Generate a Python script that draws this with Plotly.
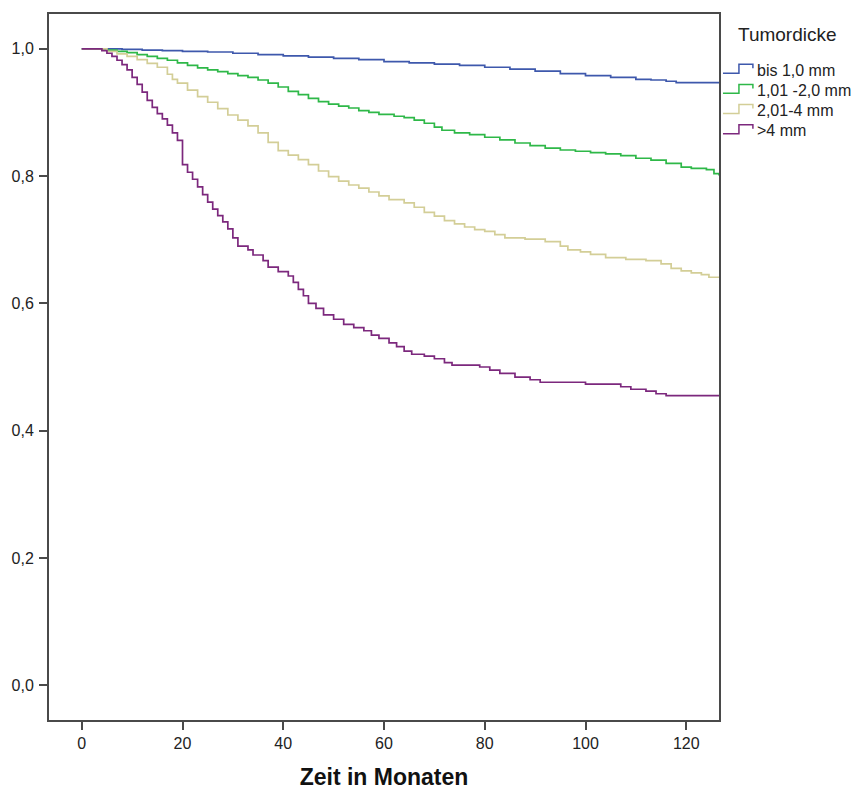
import plotly.graph_objects as go

# Kaplan-Meier survival by tumour thickness (step curves)
months_thin = [0, 5, 8, 12, 16, 20, 25, 30, 35, 40, 45, 50, 55, 60, 65, 70, 75, 80,
               85, 90, 95, 100, 105, 110, 113, 116, 118, 126.5]
surv_thin = [1.0, 1.0, 0.999, 0.998, 0.997, 0.996, 0.995, 0.993, 0.991, 0.989, 0.987,
             0.985, 0.983, 0.980, 0.978, 0.976, 0.974, 0.971, 0.968, 0.965, 0.961,
             0.958, 0.955, 0.952, 0.951, 0.949, 0.947, 0.947]

months_mid = [0, 3, 5, 7, 9, 11, 13, 15, 17, 19, 21, 23, 25, 27, 29, 31, 33, 35, 37,
              39, 41, 43, 45, 47, 49, 51, 53, 55, 57, 59, 62, 64, 66, 68, 70, 71.5, 74,
              77, 80, 83, 86, 89, 92, 95, 98, 101, 104, 107, 110, 113, 116, 119, 121,
              124, 125.5, 126.5]
surv_mid = [1.0, 1.0, 0.998, 0.996, 0.994, 0.991, 0.988, 0.985, 0.982, 0.978, 0.974,
            0.970, 0.967, 0.964, 0.961, 0.958, 0.955, 0.951, 0.946, 0.940, 0.933,
            0.928, 0.922, 0.917, 0.913, 0.910, 0.907, 0.903, 0.900, 0.897, 0.894,
            0.892, 0.888, 0.883, 0.877, 0.872, 0.868, 0.865, 0.861, 0.857, 0.852,
            0.848, 0.844, 0.841, 0.839, 0.837, 0.835, 0.832, 0.828, 0.825, 0.820,
            0.814, 0.812, 0.810, 0.804, 0.801]

months_thick = [0, 3, 5, 7, 9, 11, 13, 15, 17, 18, 19, 21, 23, 25, 27, 29, 31, 33, 35,
                37, 39, 41, 43, 45, 47, 49, 51, 53, 55, 57, 59, 61, 64, 66, 68, 70, 72,
                74, 76, 78, 80, 82, 84, 88, 92, 95, 96.5, 99, 101, 104, 108, 112, 115,
                117, 119, 121, 123, 124.5, 126.5]
surv_thick = [1.0, 1.0, 0.996, 0.992, 0.988, 0.983, 0.977, 0.971, 0.960, 0.952, 0.946,
              0.935, 0.925, 0.916, 0.906, 0.896, 0.888, 0.879, 0.868, 0.853, 0.840,
              0.833, 0.826, 0.818, 0.808, 0.799, 0.792, 0.786, 0.781, 0.775, 0.769,
              0.763, 0.758, 0.751, 0.743, 0.737, 0.730, 0.725, 0.720, 0.716, 0.713,
              0.708, 0.703, 0.701, 0.697, 0.690, 0.684, 0.681, 0.677, 0.672, 0.669,
              0.667, 0.662, 0.655, 0.651, 0.648, 0.645, 0.641, 0.641]

months_over4 = [0, 3, 4, 5, 6, 7, 8, 9, 10, 11, 12, 13, 14, 15, 16, 17, 18, 19, 20,
                21, 22, 23, 24, 25, 26, 27, 28, 29, 30, 31, 33, 34, 36, 37, 39, 41,
                42, 43, 44, 45, 46.5, 48, 50, 52, 54, 56, 57.5, 59, 61, 62.5, 64,
                65.5, 68, 70, 72, 73.5, 79, 81, 83, 86, 89, 91, 100, 107, 109, 112,
                114, 116, 126.5]
surv_over4 = [1.0, 1.0, 0.997, 0.993, 0.988, 0.982, 0.975, 0.967, 0.955, 0.944, 0.932,
              0.919, 0.908, 0.898, 0.890, 0.880, 0.868, 0.856, 0.818, 0.806, 0.795,
              0.783, 0.771, 0.759, 0.748, 0.738, 0.728, 0.717, 0.703, 0.690, 0.684,
              0.676, 0.667, 0.657, 0.650, 0.643, 0.633, 0.622, 0.612, 0.600, 0.592,
              0.582, 0.575, 0.567, 0.562, 0.557, 0.550, 0.545, 0.538, 0.532, 0.525,
              0.520, 0.517, 0.513, 0.507, 0.503, 0.500, 0.495, 0.490, 0.484, 0.480,
              0.476, 0.473, 0.469, 0.465, 0.462, 0.458, 0.455, 0.455]

group_labels = ["bis 1,0 mm", "1,01 -2,0 mm", "2,01-4 mm", ">4 mm"]
legend_title = "Tumordicke"
x_title = "Zeit in Monaten"
x_ticks = [0, 20, 40, 60, 80, 100, 120]
y_ticks = [0.0, 0.2, 0.4, 0.6, 0.8, 1.0]

colors = ["#3E58AC", "#2EB848", "#D3CE97", "#7C287D"]
series = [(months_thin, surv_thin), (months_mid, surv_mid),
          (months_thick, surv_thick), (months_over4, surv_over4)]

W, H = 863, 798
L, R, T, B = 47, 144, 12, 76
x_range = [-6.5, 126.5]
y_range = [-0.0547, 1.0547]
FONT = "Liberation Sans, Arial, sans-serif"

fig = go.Figure()
for (t, s), c, name in zip(series, colors, group_labels):
    fig.add_trace(go.Scatter(x=t, y=s, mode="lines", name=name,
                             line=dict(color=c, width=1.7, shape="hv"),
                             showlegend=False, hoverinfo="skip"))

# Legend drawn at the right: title, step icons and labels
plot_w = W - L - R
plot_h = H - T - B


def px_to_paper_x(px):
    return (px - L) / plot_w


def px_to_paper_y(py):
    return 1 - (py - T) / plot_h


fig.add_annotation(x=px_to_paper_x(736), y=px_to_paper_y(33), xref="paper", yref="paper",
                   text=legend_title, showarrow=False, xanchor="left", yanchor="middle",
                   font=dict(family=FONT, size=19, color="#222"))
for i, (name, c) in enumerate(zip(group_labels, colors)):
    yc = 68.5 + i * 20.3
    x0, x1, x2 = px_to_paper_x(723), px_to_paper_x(739), px_to_paper_x(753)
    ylo, yhi, yend = px_to_paper_y(yc + 3), px_to_paper_y(yc - 6), px_to_paper_y(yc - 2)
    fig.add_shape(type="path", xref="paper", yref="paper",
                  path=f"M {x0},{ylo} L {x1},{ylo} L {x1},{yhi} L {x2},{yhi} L {x2},{yend}",
                  line=dict(color=c, width=1.5))
    fig.add_annotation(x=px_to_paper_x(755), y=px_to_paper_y(yc), xref="paper", yref="paper",
                       text=name, showarrow=False, xanchor="left", yanchor="middle",
                       font=dict(family=FONT, size=16, color="#222"))

axis_common = dict(showline=True, linecolor="#4a4a4a", linewidth=2, mirror=True,
                   showgrid=False, zeroline=False, ticks="outside", ticklen=8,
                   tickwidth=2, tickcolor="#4a4a4a",
                   tickfont=dict(family=FONT, size=16, color="#222"))

fig.update_xaxes(range=x_range, tickvals=x_ticks, **axis_common,
                 title=dict(text=f"<b>{x_title}</b>", standoff=18,
                            font=dict(family=FONT, size=23, color="#111")))
fig.update_yaxes(range=y_range, tickvals=y_ticks, tickformat=".1f", ticklabelstandoff=2,
                 **axis_common)

fig.update_layout(width=W, height=H, margin=dict(l=L, r=R, t=T, b=B),
                  paper_bgcolor="white", plot_bgcolor="white",
                  separators=",.", showlegend=False)

fig.write_html("out.html")
